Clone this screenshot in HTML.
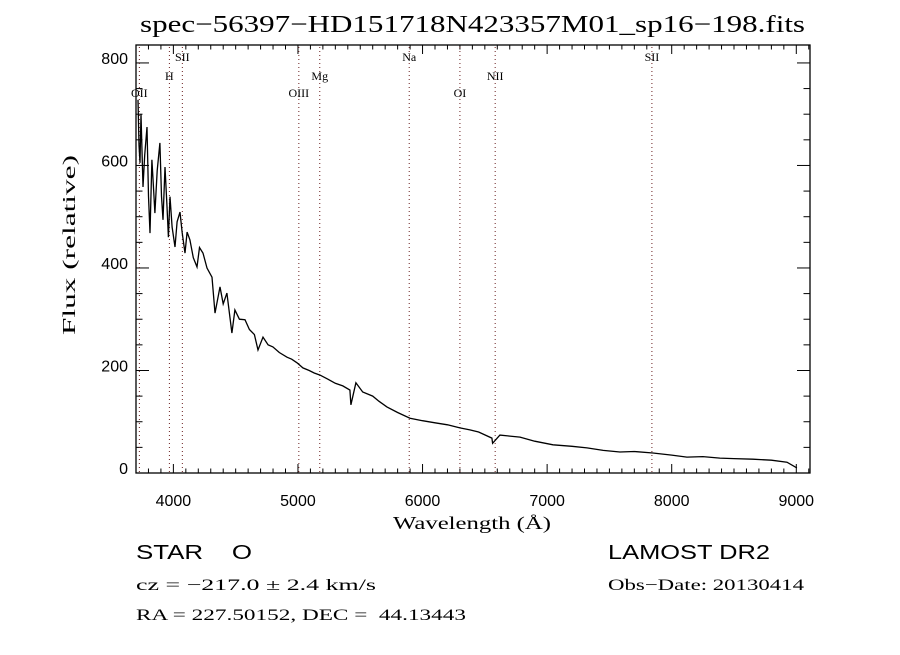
<!DOCTYPE html>
<html><head><meta charset="utf-8"><style>
body{margin:0;background:#fff;}
svg text{fill:#000;white-space:pre;}
</style></head><body>
<svg width="900" height="650" xmlns="http://www.w3.org/2000/svg" xml:space="preserve">
<rect width="900" height="650" fill="#fff"/>
<text x="140" y="32" textLength="665" lengthAdjust="spacingAndGlyphs" font-family="Liberation Serif, serif" font-size="24">spec−56397−HD151718N423357M01_sp16−198.fits</text>
<g id="axes"></g>
<g id="lines"></g>
<g id="series"></g>
<text x="393" y="529" textLength="158" lengthAdjust="spacingAndGlyphs" font-family="Liberation Serif, serif" font-size="18">Wavelength (Å)</text>
<text transform="translate(75,335) rotate(-90)" textLength="180" lengthAdjust="spacingAndGlyphs" font-family="Liberation Serif, serif" font-size="18">Flux (relative)</text>
<text x="136" y="559" textLength="116" lengthAdjust="spacingAndGlyphs" font-family="Liberation Sans, sans-serif" font-size="20">STAR    O</text>
<text x="608" y="559" textLength="162" lengthAdjust="spacingAndGlyphs" font-family="Liberation Sans, sans-serif" font-size="20">LAMOST DR2</text>
<text x="136" y="590" textLength="240" lengthAdjust="spacingAndGlyphs" font-family="Liberation Serif, serif" font-size="16">cz = −217.0 ± 2.4 km/s</text>
<text x="608" y="590" textLength="196" lengthAdjust="spacingAndGlyphs" font-family="Liberation Serif, serif" font-size="16">Obs−Date: 20130414</text>
<text x="136" y="620" textLength="330" lengthAdjust="spacingAndGlyphs" font-family="Liberation Serif, serif" font-size="16">RA = 227.50152, DEC =  44.13443</text>
</svg>
<script>
const wavelengths=[3716,3724,3732,3740,3756,3770,3788,3800,3812,3828,3840,3852,3870,3892,3905,3917,3933,3949,3960,3973,3990,4013,4030,4053,4070,4093,4110,4133,4160,4190,4210,4238,4270,4310,4334,4374,4400,4430,4470,4494,4530,4575,4610,4650,4679,4719,4760,4799,4850,4912,4950,4992,5040,5090,5130,5177,5240,5300,5360,5417,5425,5465,5520,5600,5650,5714,5800,5899,6000,6100,6200,6300,6380,6450,6557,6562,6621,6700,6782,6900,7047,7200,7320,7450,7584,7700,7849,8000,8122,8250,8387,8500,8652,8800,8925,9005];
const fluxes=[728,640,605,700,558,620,675,540,468,611,560,507,590,644,540,494,597,520,460,539,480,441,490,509,470,429,470,455,420,402,440,429,400,382,312,363,330,351,273,318,300,299,280,270,240,265,250,246,235,226,222,215,205,200,195,191,183,175,170,162,133,176,158,150,140,129,118,107,102,98,94,88,84,80,68,58,74,72,70,62,55,52,49,44,41,42,39,35,31,32,29,28,27,25,21,10];
const lineNames=["OII","H","SII","OIII","Mg","Na","OI","NII","SII"];
const lineWaves=[3727,3968,4072,5007,5175,5893,6300,6583,7841];
const xTicks=[4000,5000,6000,7000,8000,9000];
const yTicks=[0,200,400,600,800];
const NS="http://www.w3.org/2000/svg";
const L=136,R=810,T=45,B=473,X0=3700,X1=9110,Y0=0,Y1=835;
const xs=v=>L+(v-X0)/(X1-X0)*(R-L);
const ys=v=>B-(v-Y0)/(Y1-Y0)*(B-T);
function mk(tag,attrs,parent){const e=document.createElementNS(NS,tag);for(const k in attrs)e.setAttribute(k,attrs[k]);parent.appendChild(e);return e;}
const ax=document.getElementById('axes');
const frame=mk('rect',{x:L,y:T,width:R-L,height:B-T,fill:'none',stroke:'#000','stroke-width':1.3},ax);


for(let v=3700;v<=9100;v+=100){const x=xs(v);const major=v%1000===0;const h=major?9:4.5;
 mk('line',{x1:x,x2:x,y1:B,y2:B-h,stroke:'#000'},ax);mk('line',{x1:x,x2:x,y1:T,y2:T+h,stroke:'#000'},ax);}
for(let v=0;v<=835;v+=50){const y=ys(v);const major=v%200===0;const h=major?13:6.5;
 mk('line',{x1:L,x2:L+h,y1:y,y2:y,stroke:'#000'},ax);mk('line',{x1:R,x2:R-h,y1:y,y2:y,stroke:'#000'},ax);}
xTicks.forEach(v=>{const t=mk('text',{x:xs(v),y:B+33,'text-anchor':'middle','font-family':'Liberation Sans, sans-serif','font-size':16},ax);t.textContent=v;
 
 });
yTicks.forEach(v=>{const t=mk('text',{x:L-8,y:ys(v)+1,'text-anchor':'end','font-family':'Liberation Sans, sans-serif','font-size':16},ax);t.textContent=v;
 
 });
const lg=document.getElementById('lines');
const labY=[97,80,61];
lineWaves.forEach((w,i)=>{const x=xs(w);
 const ln=mk('line',{x1:x,x2:x,y1:T+2,y2:B,stroke:'#6b2020','stroke-width':1,'stroke-dasharray':'1,3'},lg);
 
 
 const t=mk('text',{x:x,y:labY[i%3],'text-anchor':'middle','font-family':'Liberation Serif, serif','font-size':12},lg);t.textContent=lineNames[i];
 
 });
const sg=document.getElementById('series');
const pts=wavelengths.map((w,i)=>xs(w).toFixed(1)+','+ys(fluxes[i]).toFixed(1)).join(' ');
const pl=mk('polyline',{points:pts,fill:'none',stroke:'#000','stroke-width':1.3},sg);


</script>
</body></html>
